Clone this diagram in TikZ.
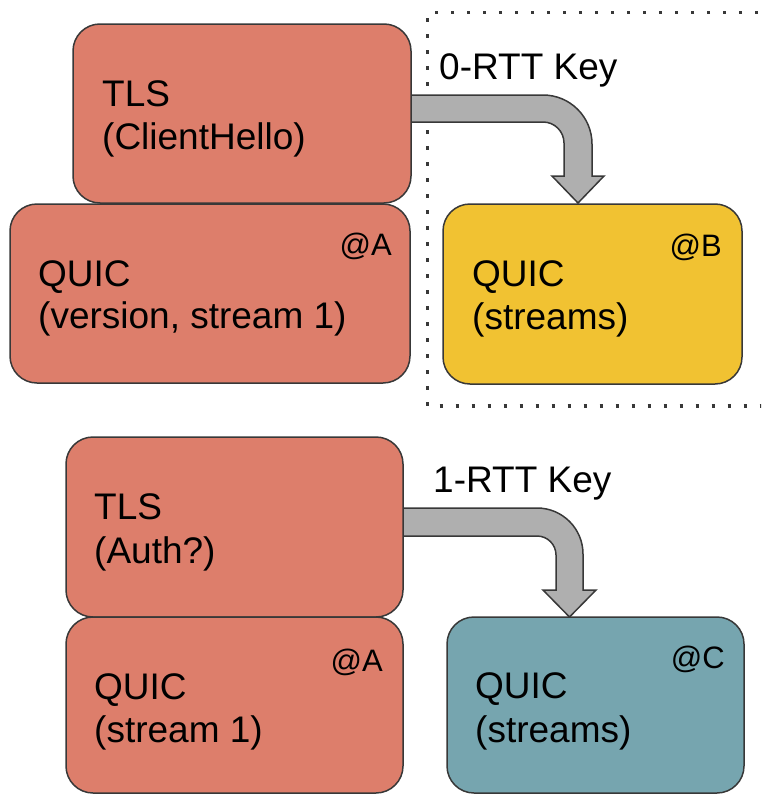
\documentclass[tikz,border=0pt]{standalone}
\usepackage{fontspec}
\setmainfont{Liberation Sans}
\definecolor{salmon}{HTML}{DD7E6B}
\definecolor{gold}{HTML}{F1C232}
\definecolor{teal}{HTML}{76A5AF}
\definecolor{keygray}{HTML}{AFAFAF}
\definecolor{edge}{HTML}{383838}
\tikzset{
  layer/.style={draw=edge, line width=1.5pt, rounded corners=27pt,
    inner sep=0pt, minimum width=#1},
  txt/.style={anchor=base west, inner sep=0pt, font=\fontsize{37}{43}\selectfont},
  tag/.style={anchor=base east, inner sep=0pt, font=\fontsize{31}{36}\selectfont},
  keyarrow/.style={fill=keygray, draw=edge, line width=1.5pt, line join=miter},
  scopebox/.style={draw=edge, line width=3.5pt, dash pattern=on 3.5pt off 12.5pt}
}
\begin{document}
\begin{tikzpicture}[x=1pt, y=-1pt]
\useasboundingbox (0,0) rectangle (761,795);
\clip (0,0) rectangle (761,795);

% dotted region around the 0-RTT part
\draw[scopebox] (790,12.5) -- (427.5,12.5) -- (427.5,406) -- (790,406);

% key hand-over arrows (drawn under the boxes)
\draw[keyarrow] (405,95) -- (543,95)
  .. controls (570.06,95) and (592,116.94) .. (592,144)
  -- (592,176) -- (604,176) -- (578,203) -- (552,176) -- (564,176) -- (564,143)
  .. controls (564,131.4) and (554.6,122) .. (543,122)
  -- (405,122) -- cycle;
\draw[keyarrow] (398,508) -- (537,508)
  .. controls (562.4,508) and (583,528.6) .. (583,554)
  -- (583,590) -- (596,590) -- (569.5,617) -- (543,590) -- (556,590) -- (556,555)
  .. controls (556,544.5) and (547.5,536) .. (537,536)
  -- (398,536) -- cycle;

% first flight
\node[layer=338pt, fill=salmon, minimum height=179pt] (tls1) at (242,113.5) {};
\node[layer=400pt, fill=salmon, minimum height=179pt] (quicA) at (210,293.5) {};
\node[layer=299pt, fill=gold, minimum height=180pt] (quicB) at (592.5,294) {};

% second flight
\node[layer=337pt, fill=salmon, minimum height=180pt] (tls2) at (234.5,527) {};
\node[layer=337pt, fill=salmon, minimum height=176pt] (quicA2) at (234.5,705) {};
\node[layer=297pt, fill=teal, minimum height=176pt] (quicC) at (595.5,705) {};

% box texts
\node[txt] (tls1a) at (102,106) {TLS};
\node[txt] (tls1b) at (102,149) {(ClientHello)};
\node[txt] (quicAa) at (38,286) {QUIC};
\node[txt] (quicAb) at (38,328) {(version, stream 1)};
\node[txt] (quicBa) at (472,286) {QUIC};
\node[txt] (quicBb) at (472,329) {(streams)};
\node[txt] (tls2a) at (94,519) {TLS};
\node[txt] (tls2b) at (94,563) {(Auth?)};
\node[txt] (quicA2a) at (94,699) {QUIC};
\node[txt] (quicA2b) at (94,742) {(stream 1)};
\node[txt] (quicCa) at (475,698) {QUIC};
\node[txt] (quicCb) at (475,742) {(streams)};

% endpoint tags
\node[tag] (tagA) at (392,255) {@A};
\node[tag] (tagB) at (722,256) {@B};
\node[tag] (tagA2) at (383,671) {@A};
\node[tag] (tagC) at (725,668) {@C};

% key labels
\node[txt] (key0) at (439,79) {0-RTT Key};
\node[txt] (key1) at (433,492) {1-RTT Key};
\end{tikzpicture}
\end{document}
